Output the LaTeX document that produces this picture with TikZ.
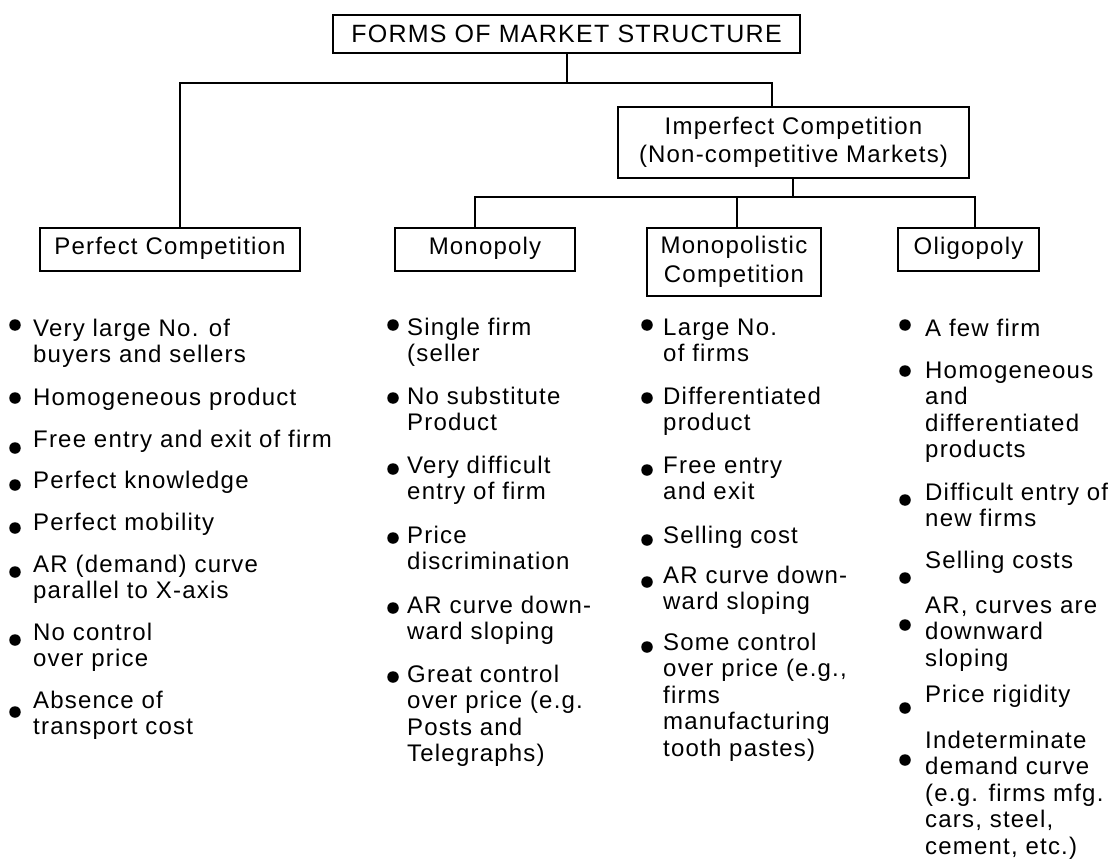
\documentclass[tikz,border=0pt]{standalone}
\usepackage{fontspec}
\setmainfont{Liberation Sans}[LetterSpace=5]
\newcommand\ml[1]{\begin{tabular}[t]{@{}l@{}}#1\end{tabular}}
\begin{document}
\begin{tikzpicture}[x=1pt,y=-1pt,
  box/.style={draw, line width=1.8pt, inner sep=0pt, align=center, font=\fontsize{24}{28.5}\selectfont},
  onebox/.style={box, minimum height=43pt, text height=16pt, text depth=6pt},
  conn/.style={line width=1.8pt},
  item/.style={anchor=base west, inner sep=0pt, font=\fontsize{24}{26.5}\selectfont},
  bul/.style={circle, fill, inner sep=0pt, minimum size=11.5pt}]
\useasboundingbox (0,0) rectangle (1110,861);

% boxes
\node[box, font=\fontsize{25}{30}\selectfont, minimum width=467pt, minimum height=38pt] (top) at (566.5,34) {FORMS OF MARKET STRUCTURE};
\node[box, minimum width=351pt, minimum height=71pt] (imp) at (793.5,142.5) {Imperfect Competition\\(Non-competitive Markets)};
\node[onebox, minimum width=260pt] (pc) at (170,249.5) {Perfect Competition};
\node[onebox, minimum width=180pt] (mon) at (485,249.5) {Monopoly};
\node[box, minimum width=174pt, minimum height=68pt] (mc) at (734,262) {Monopolistic\\Competition};
\node[onebox, minimum width=141pt] (oli) at (968.5,249.5) {Oligopoly};

% junctions
\coordinate (j0) at (567,83);
\coordinate (jL) at (180,83);
\coordinate (jR) at (772,83);
\coordinate (kL) at (475,197);
\coordinate (kM) at (737,197);
\coordinate (kR) at (975,197);
\coordinate (kI) at (793,197);

\draw[conn, line width=2.6pt] (top.south -| j0) -- (j0);
\draw[conn] (pc.north -| jL) -- (jL) -- (jR) -- (imp.north -| jR);
\draw[conn, line width=2.6pt] (imp.south -| kI) -- (kI);
\draw[conn] (mon.north -| kL) -- (kL) -- (kR) -- (oli.north -| kR);
\draw[conn] (kM) -- (mc.north -| kM);

% Perfect competition
\node[bul] (a1b) at (15,325) {}; \node[item] (a1) at (33,336) {\ml{Very large No. of\\buyers and sellers}};
\node[bul] (a2b) at (15,398) {}; \node[item] (a2) at (33,405) {Homogeneous product};
\node[bul] (a3b) at (15,448) {}; \node[item] (a3) at (33,447) {Free entry and exit of firm};
\node[bul] (a4b) at (15,485) {}; \node[item] (a4) at (33,488) {Perfect knowledge};
\node[bul] (a5b) at (15,528) {}; \node[item] (a5) at (33,530) {Perfect mobility};
\node[bul] (a6b) at (15,572) {}; \node[item] (a6) at (33,572) {\ml{AR (demand) curve\\parallel to X-axis}};
\node[bul] (a7b) at (15,640) {}; \node[item] (a7) at (33,640) {\ml{No control\\over price}};
\node[bul] (a8b) at (15,712) {}; \node[item] (a8) at (33,708) {\ml{Absence of\\transport cost}};

% Monopoly
\node[bul] (b1b) at (393,325) {}; \node[item] (b1) at (407,335) {\ml{Single firm\\(seller}};
\node[bul] (b2b) at (393,398) {}; \node[item] (b2) at (407,404) {\ml{No substitute\\Product}};
\node[bul] (b3b) at (393,469) {}; \node[item] (b3) at (407,473) {\ml{Very difficult\\entry of firm}};
\node[bul] (b4b) at (393,538) {}; \node[item] (b4) at (407,543) {\ml{Price\\discrimination}};
\node[bul] (b5b) at (393,608) {}; \node[item] (b5) at (407,613) {\ml{AR curve down-\\ward sloping}};
\node[bul] (b6b) at (393,677) {}; \node[item] (b6) at (407,682) {\ml{Great control\\over price (e.g.\\Posts and\\Telegraphs)}};

% Monopolistic competition
\node[bul] (c1b) at (647,325) {}; \node[item] (c1) at (663,335) {\ml{Large No.\\of firms}};
\node[bul] (c2b) at (647,398) {}; \node[item] (c2) at (663,404) {\ml{Differentiated\\product}};
\node[bul] (c3b) at (647,470) {}; \node[item] (c3) at (663,473) {\ml{Free entry\\and exit}};
\node[bul] (c4b) at (647,540) {}; \node[item] (c4) at (663,543) {Selling cost};
\node[bul] (c5b) at (647,582) {}; \node[item] (c5) at (663,583) {\ml{AR curve down-\\ward sloping}};
\node[bul] (c6b) at (647,647) {}; \node[item] (c6) at (663,650) {\ml{Some control\\over price (e.g.,\\firms\\manufacturing\\tooth pastes)}};

% Oligopoly
\node[bul] (d1b) at (905,325) {}; \node[item] (d1) at (925,336) {A few firm};
\node[bul] (d2b) at (905,371) {}; \node[item] (d2) at (925,378) {\ml{Homogeneous\\and\\differentiated\\products}};
\node[bul] (d3b) at (905,500) {}; \node[item] (d3) at (925,500) {\ml{Difficult entry of\\new firms}};
\node[bul] (d4b) at (905,578) {}; \node[item] (d4) at (925,568) {Selling costs};
\node[bul] (d5b) at (905,625) {}; \node[item] (d5) at (925,613) {\ml{AR, curves are\\downward\\sloping}};
\node[bul] (d6b) at (905,708) {}; \node[item] (d6) at (925,702) {Price rigidity};
\node[bul] (d7b) at (905,760) {}; \node[item] (d7) at (925,748) {\ml{Indeterminate\\demand curve\\(e.g. firms mfg.\\cars, steel,\\cement, etc.)}};
\end{tikzpicture}
\end{document}
